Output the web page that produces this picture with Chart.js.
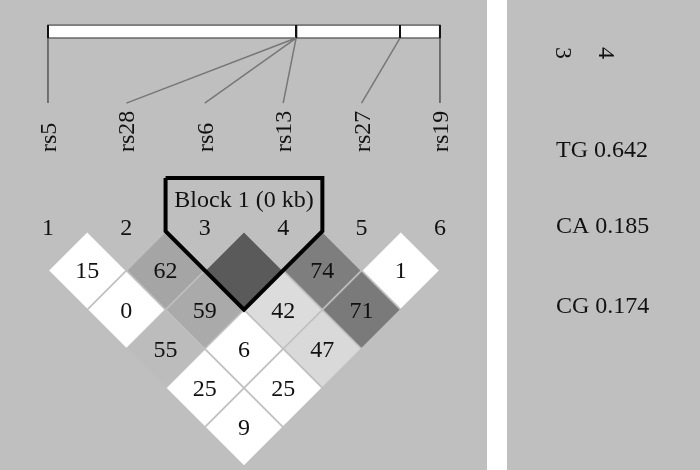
<!DOCTYPE html>
<html>
<head>
<meta charset="utf-8">
<script src="https://cdn.jsdelivr.net/npm/chart.js@4.4.0/dist/chart.umd.min.js"></script>
<style>
  html, body { margin: 0; padding: 0; background: #fff; }
  #wrap { width: 700px; height: 470px; }
</style>
</head>
<body>
<div id="wrap"><canvas id="ld" width="700" height="470"></canvas></div>
<script>
// SNP markers in map order
const markers = ["rs5", "rs28", "rs6", "rs13", "rs27", "rs19"];
// relative physical position on the gene bar (0 = first marker, 1 = last)
const markerPos = [0, 0.633, 0.633, 0.633, 0.898, 1];
// D' x100, row i = marker i+1 against the markers after it
const dPrime = [
  [15, 0, 55, 25, 9],
  [62, 59, 6, 25],
  [100, 42, 47],
  [74, 71],
  [1]
];
// LD block (marker numbers) and its haplotypes
const blockMarkers = [3, 4];
const blockLabel = "Block 1 (0 kb)";
const haplotypes = ["TG", "CA", "CG"];
const hapFreq = [0.642, 0.185, 0.174];

// cell shading as seen in the picture (grey level per cell, same layout as dPrime)
const cellGrey = [
  [255, 255, 188, 255, 255],
  [165, 170, 255, 255],
  [90, 220, 217],
  [126, 122],
  [255]
];

const FONT = '24px "Liberation Serif", "DejaVu Serif", serif';
const BG = "#bfbfbf";
// vertical layout in "pair distance" units of the y scale
const BAR_TOP = -5.26, BAR_BOTTOM = -4.93, CONN_BOTTOM = -3.27, LABEL_START = -2.02;
const NUM_Y = -0.12, BLOCK_TOP = -1.36, BLOCK_LABEL_Y = -0.82;

// build cells: x = midpoint of the two markers, y = marker distance
const cells = [];
dPrime.forEach((row, i) => row.forEach((v, k) => {
  const a = i + 1, b = i + 2 + k;
  cells.push({ x: (a + b) / 2, y: b - a, v: v, grey: cellGrey[i][k] });
}));

// block outline
const bf = blockMarkers[0], bl = blockMarkers[blockMarkers.length - 1];
const blockOutline = [
  { x: bf - 0.5, y: BLOCK_TOP },
  { x: bl + 0.5, y: BLOCK_TOP },
  { x: bl + 0.5, y: 0 },
  { x: (bf + bl) / 2, y: bl - bf + 1 },
  { x: bf - 0.5, y: 0 },
  { x: bf - 0.5, y: BLOCK_TOP }
];

// connectors from gene bar to marker labels
const n = markers.length;
const connectors = markers.map((m, i) => ({
  type: "scatter",
  data: [{ x: 1 + markerPos[i] * (n - 1), y: BAR_BOTTOM }, { x: i + 1, y: CONN_BOTTOM }],
  showLine: true,
  borderColor: (i === 0 || i === n - 1) ? "#555" : "#777",
  borderWidth: 1.5,
  pointRadius: 0,
  order: 1
}));

const ldText = {
  id: "ldText",
  beforeDraw(chart) {
    const c = chart.ctx;
    c.save();
    c.fillStyle = "#fff";
    c.fillRect(0, 0, chart.width, chart.height);
    c.fillStyle = BG;
    c.fillRect(0, 0, 487, 470);
    c.fillRect(507, 0, 193, 470);
    c.restore();
  },
  beforeDatasetsDraw(chart) {
    const c = chart.ctx, xs = chart.scales.x, ys = chart.scales.y;
    const x0 = xs.getPixelForValue(1), x1 = xs.getPixelForValue(n);
    const y0 = ys.getPixelForValue(BAR_TOP), y1 = ys.getPixelForValue(BAR_BOTTOM);
    c.save();
    c.fillStyle = "#fff";
    c.fillRect(x0, y0, x1 - x0, y1 - y0);
    c.strokeStyle = "#666";
    c.lineWidth = 1.5;
    c.strokeRect(x0, y0, x1 - x0, y1 - y0);
    c.strokeStyle = "#111";
    c.lineWidth = 2;
    markerPos.forEach(p => {
      const px = xs.getPixelForValue(1 + p * (n - 1));
      c.beginPath();
      c.moveTo(px, y0);
      c.lineTo(px, y1);
      c.stroke();
    });
    c.restore();
  },
  afterDatasetsDraw(chart) {
    const c = chart.ctx, xs = chart.scales.x, ys = chart.scales.y;
    c.save();
    c.font = FONT;
    c.fillStyle = "#111";
    c.textBaseline = "alphabetic";
    c.textAlign = "center";
    // values in cells
    cells.forEach(cell => {
      if (cell.v >= 100) return;
      c.fillText(String(cell.v), xs.getPixelForValue(cell.x), ys.getPixelForValue(cell.y) + 8);
    });
    // marker numbers
    markers.forEach((m, i) => {
      c.fillText(String(i + 1), xs.getPixelForValue(i + 1), ys.getPixelForValue(NUM_Y) + 8);
    });
    // block label
    c.fillText(blockLabel, xs.getPixelForValue((bf + bl) / 2), ys.getPixelForValue(BLOCK_LABEL_Y) + 8);
    // marker names, rotated
    c.textAlign = "left";
    markers.forEach((m, i) => {
      c.save();
      c.translate(xs.getPixelForValue(i + 1) + 8, ys.getPixelForValue(LABEL_START));
      c.rotate(-Math.PI / 2);
      c.fillText(m, 0, 0);
      c.restore();
    });
    // haplotype panel
    const colX = [556, 599];
    blockMarkers.forEach((b, k) => {
      c.save();
      c.translate(colX[k], 47);
      c.rotate(Math.PI / 2);
      c.fillText(String(b), 0, 0);
      c.restore();
    });
    const rowBase = [157, 233, 313];
    haplotypes.forEach((h, k) => {
      c.fillText(h + " " + hapFreq[k].toFixed(3), 556, rowBase[k]);
    });
    c.restore();
  }
};

new Chart(document.getElementById("ld"), {
  type: "scatter",
  data: {
    datasets: [
      {
        data: blockOutline,
        showLine: true,
        fill: false,
        borderColor: "#000",
        borderWidth: 4,
        borderJoinStyle: "miter",
        pointRadius: 0,
        order: 0
      },
      {
        data: cells,
        pointStyle: "rectRot",
        pointRadius: ctx => {
          const xs = ctx.chart.scales.x;
          return xs.getPixelForValue(1) - xs.getPixelForValue(0.5) - 1.2;
        },
        backgroundColor: ctx => {
          const g = ctx.raw ? ctx.raw.grey : 255;
          return "rgb(" + g + "," + g + "," + g + ")";
        },
        borderWidth: 0,
        order: 2
      },
      ...connectors
    ]
  },
  options: {
    responsive: false,
    animation: false,
    events: [],
    layout: { padding: 0 },
    plugins: { legend: { display: false }, tooltip: { enabled: false } },
    scales: {
      x: { type: "linear", display: false, min: 0.388, max: 9.317 },
      y: { type: "linear", display: false, reverse: true, min: -5.9, max: 6.09 }
    }
  },
  plugins: [ldText]
});
</script>
</body>
</html>
